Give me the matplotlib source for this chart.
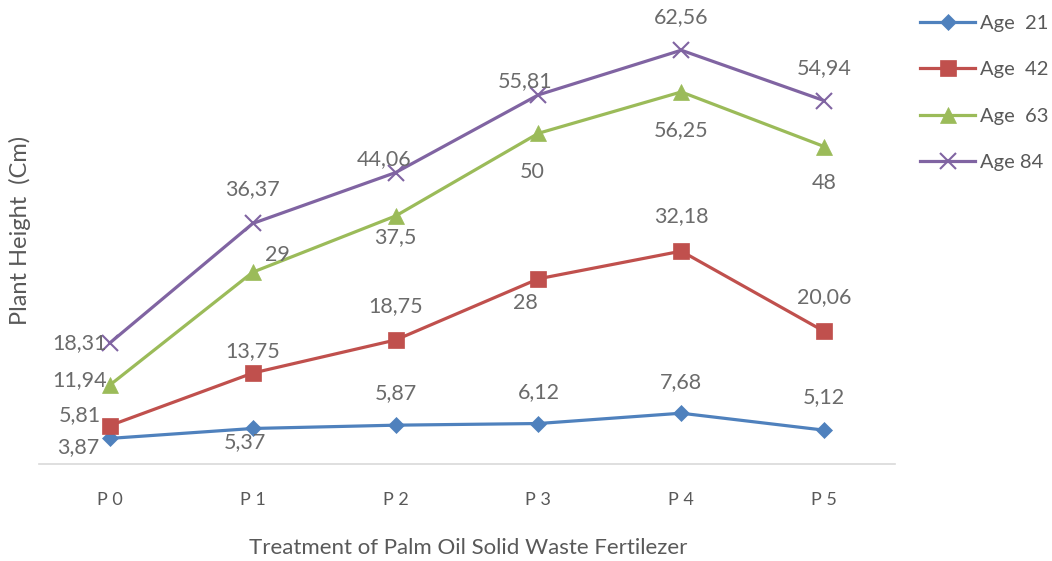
import matplotlib
matplotlib.use("Agg")
import matplotlib.pyplot as plt

categories = ["P 0", "P 1", "P 2", "P 3", "P 4", "P 5"]
series_names = ["Age  21", "Age  42", "Age  63", "Age 84"]
age21 = [3.87, 5.37, 5.87, 6.12, 7.68, 5.12]
age42 = [5.81, 13.75, 18.75, 28, 32.18, 20.06]
age63 = [11.94, 29, 37.5, 50, 56.25, 48]
age84 = [18.31, 36.37, 44.06, 55.81, 62.56, 54.94]
labels21 = ["3,87", "5,37", "5,87", "6,12", "7,68", "5,12"]
labels42 = ["5,81", "13,75", "18,75", "28", "32,18", "20,06"]
labels63 = ["11,94", "29", "37,5", "50", "56,25", "48"]
labels84 = ["18,31", "36,37", "44,06", "55,81", "62,56", "54,94"]

colors = ["#4F81BD", "#C0504D", "#9BBB59", "#8064A2"]
markers = ["D", "s", "^", "x"]
msizes = [8, 11, 11, 11]
offsets = [
    [(-32, -9), (-8, -14), (0, 32), (0, 31), (0, 31), (0, 33)],
    [(-30, 10), (0, 22), (0, 34), (-13, -24), (0, 35), (0, 34)],
    [(-30, 5), (25, 17), (0, -21), (-6, -39), (0, -38), (0, -36)],
    [(-30, 0), (0, 34), (-12, 13), (-13, 14), (0, 33), (0, 33)],
]

plt.rcParams['font.family'] = ['Lato', 'DejaVu Sans']
fig = plt.figure(figsize=(10.52, 5.61), dpi=100)
ax = fig.add_axes([38.5/1052, 1-464/561, (895.5-38.5)/1052, 463/561])

x = list(range(len(categories)))
all_vals = [age21, age42, age63, age84]
all_labels = [labels21, labels42, labels63, labels84]
for vals, labs, c, m, ms, name, offs in zip(all_vals, all_labels, colors, markers, msizes, series_names, offsets):
    ax.plot(x, vals, color=c, lw=2.3, marker=m, markersize=ms, markeredgewidth=1.5 if m == "x" else 0.5,
            markeredgecolor=c, label=name, zorder=3)
    for xi, v, lab, off in zip(x, vals, labs, offs):
        ax.annotate(lab, (xi, v), xytext=off, textcoords="offset pixels", ha="center", va="center",
                    fontsize=15.5, color="#6b6b6b", zorder=4)

ax.set_xlim(-0.5, 5.5)
ax.set_ylim(0, 70)
ax.set_xticks(x)
ax.set_xticklabels(categories, fontsize=13, color="#595959")
ax.tick_params(axis="x", length=0, pad=20)
ax.set_yticks([])
for s in ["top", "right", "left"]:
    ax.spines[s].set_visible(False)
ax.spines["bottom"].set_color("#d9d9d9")
ax.spines["bottom"].set_linewidth(1.2)
ax.set_facecolor("none")

fig.text(468/1052, 1-548/561, "Treatment of Palm Oil Solid Waste Fertilezer", ha="center", va="center",
         fontsize=16, color="#595959")
fig.text(20/1052, 1-230/561, "Plant Height  (Cm)", ha="center", va="center", rotation=90,
         fontsize=17, color="#595959")

leg = fig.legend(loc="upper left", bbox_to_anchor=(920/1052, 1-15/561), frameon=False, fontsize=14.5,
                 labelspacing=1.45, handlelength=2.75, handletextpad=0.22, borderpad=0, borderaxespad=0,
                 labelcolor="#595959")

fig.savefig("out.png", dpi=100)
